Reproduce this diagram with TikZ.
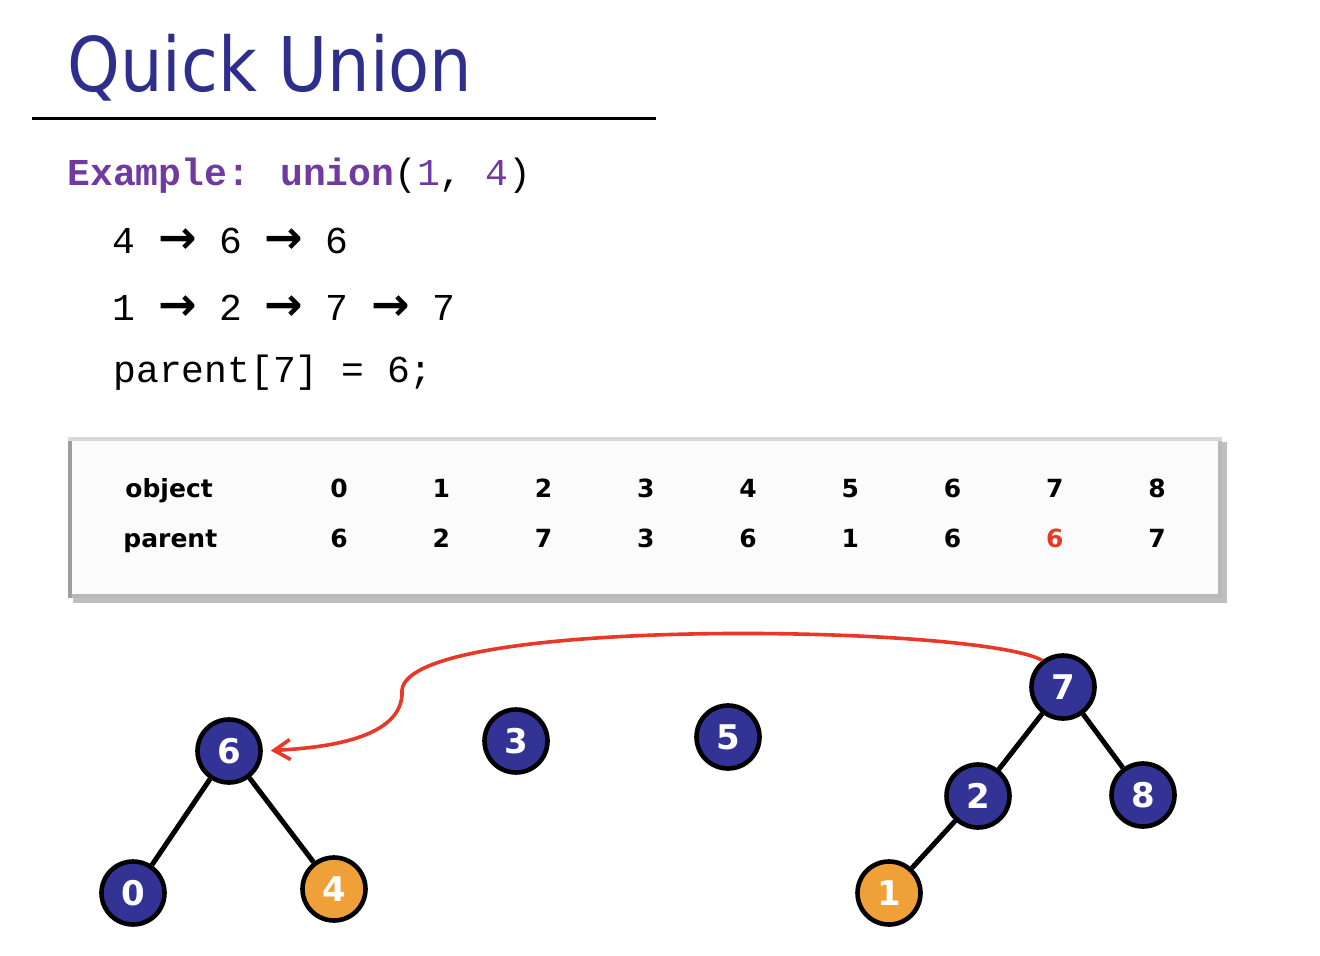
\documentclass[tikz,border=0pt]{standalone}
\usepackage{fontspec}
\setmainfont{DejaVu Sans}
\newfontfamily\codefont{Liberation Mono}
\newfontfamily\arrowfont{DejaVu Sans}
\usetikzlibrary{arrows.meta}

\definecolor{titleblue}{RGB}{46,46,140}
\definecolor{nodeblue}{RGB}{51,51,150}
\definecolor{nodeorange}{RGB}{240,160,56}
\definecolor{codepurple}{RGB}{112,58,160}
\definecolor{linkred}{RGB}{232,56,40}

\newcommand{\arr}{{\arrowfont\bfseries\fontsize{23}{22}\selectfont →}}

\tikzset{
  tnode/.style={circle, draw=black, line width=2.3pt, fill=nodeblue, minimum size=31.5pt,
    inner sep=0pt, text=white, font=\bfseries\fontsize{17}{18}\selectfont},
  hnode/.style={tnode, fill=nodeorange},
  treeline/.style={line width=2.5pt},
  codetext/.style={anchor=base west, inner sep=0pt, font=\codefont\fontsize{19}{22}\selectfont},
  cell/.style={anchor=base, inner sep=0pt, font=\bfseries\fontsize{12.5}{14}\selectfont},
  rowlabel/.style={anchor=base west, inner sep=0pt, font=\bfseries\fontsize{12.5}{14}\selectfont}
}

\begin{document}
\begin{tikzpicture}[x=0.5pt, y=-0.5pt]
  \useasboundingbox (0,0) rectangle (1320,956);

  % Title
  \node[anchor=base west, inner sep=0pt, text=titleblue, font=\fontsize{37.7}{40}\selectfont]
    (title) at (67,92) {\scalebox{0.89}[1]{Quick Union}};
  \draw[line width=1.5pt] (32,119) -- (656,119);

  % Code lines
  \node[codetext] (example) at (67,186)
    {{\bfseries\color{codepurple}Example: union}(\textcolor{codepurple}{1}, \textcolor{codepurple}{4})};
  \foreach \t [count=\i from 0] in {4,\arr,6,\arr,6}
    \node[codetext, anchor=base] (pathA\i) at (124+53.3*\i,254) {\t};
  \foreach \t [count=\i from 0] in {1,\arr,2,\arr,7,\arr,7}
    \node[codetext, anchor=base] (pathB\i) at (124+53.3*\i,321) {\t};
  \node[codetext] (assign) at (113,383) {parent[7] = 6;};

  % Table
  \fill[gray!50] (73,442) rectangle (1227,603);
  \fill[gray!55] (68,437) rectangle (1222,598);
  \fill[gray!75] (68,437) rectangle (72,598);
  \fill[gray!30] (68,437) rectangle (1222,441);
  \fill[gray!3] (72,441) rectangle (1218,594);
  \node[rowlabel] (objlabel) at (125,497) {object};
  \node[rowlabel] (parlabel) at (123,547) {parent};
  \foreach \o/\p [count=\i from 0] in {0/6,1/2,2/7,3/3,4/6,5/1,6/6,7/{\color{linkred}6},8/7} {
    \node[cell] (obj\i) at (339+102.25*\i,497) {\o};
    \node[cell] (par\i) at (339+102.25*\i,547) {\p};
  }

  % Nodes
  \node[tnode] (n6) at (229,751) {6};
  \node[tnode] (n0) at (133,893) {0};
  \node[hnode] (n4) at (334,889) {4};
  \node[tnode] (n3) at (516,741) {3};
  \node[tnode] (n5) at (728,737) {5};
  \node[tnode] (n7) at (1063,687) {7};
  \node[tnode] (n2) at (978,796) {2};
  \node[tnode] (n8) at (1143,795) {8};
  \node[hnode] (n1) at (889,893) {1};

  % Edges
  \foreach \a/\b in {6/0, 6/4, 7/2, 7/8, 2/1}
    \draw[treeline] (n\a) -- (n\b);

  % Union link
  \coordinate (bend) at (402,690);
  \draw[linkred, line width=1.8pt, -{Straight Barb[length=8pt,width=10pt]}, shorten >=4pt]
    (n7.128) .. controls (980,625) and (410,615) .. (bend)
    .. controls (405,740) and (320,748) .. (n6.east);
\end{tikzpicture}
\end{document}
